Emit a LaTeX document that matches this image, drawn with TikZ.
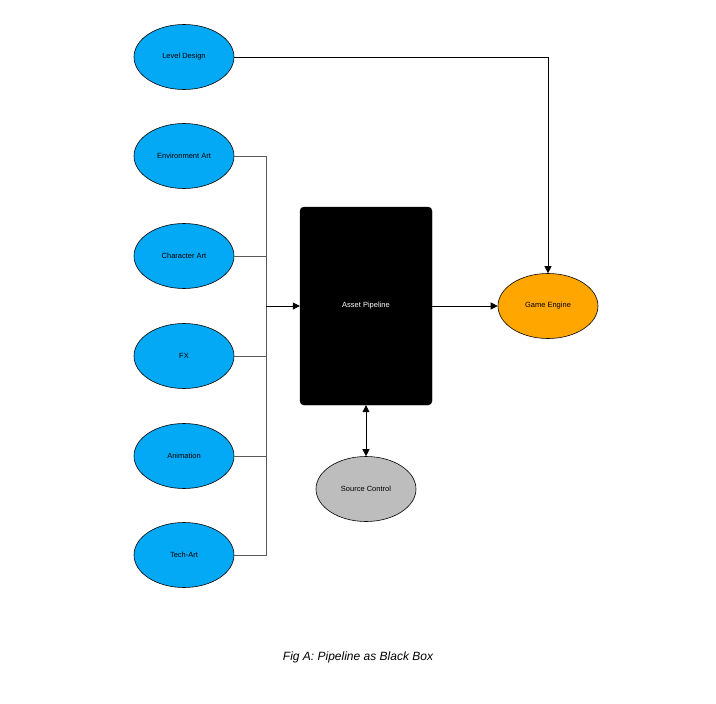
\documentclass[tikz,border=0pt]{standalone}
\usepackage{fontspec}
\setmainfont{Liberation Sans}
\usetikzlibrary{shapes.geometric,arrows.meta}
\begin{document}
\begin{tikzpicture}[x=1pt,y=-1pt,
  ell/.style={ellipse,draw=black,line width=0.6pt,minimum width=100pt,minimum height=65pt,inner sep=0pt,font=\fontsize{7.5}{9}\selectfont},
  blue/.style={ell,fill={rgb,255:red,3;green,169;blue,244}},
  con/.style={draw={rgb,255:red,90;green,90;blue,90},line width=0.6pt},
  arr/.style={con,-{Triangle[length=7pt,width=7pt]},draw=black}]
\useasboundingbox[fill=white] (0,0) rectangle (716,704);
\node[blue] (ld) at (184,57) {Level Design};
\node[blue] (ea) at (184,156) {Environment Art};
\node[blue] (ca) at (184,256) {Character Art};
\node[blue] (fx) at (184,356) {FX};
\node[blue] (an) at (184,456) {Animation};
\node[blue] (ta) at (184,555) {Tech-Art};
\node[draw=black,fill=black,rounded corners=4pt,minimum width=132pt,minimum height=198pt,text=white,font=\fontsize{7.5}{9}\selectfont] (ap) at (366,306) {Asset Pipeline};
\node[ell,fill={rgb,255:red,255;green,167;blue,0}] (ge) at (548,306) {Game Engine};
\node[ell,fill={rgb,255:red,189;green,189;blue,189}] (sc) at (366,489) {Source Control};
\coordinate (j) at (266,306);
\foreach \n in {ea,ca,fx,an,ta}{\draw[con] (\n.east) -- (\n.east -| j) -- (j);}
\draw[arr] (j) -- (ap.west);
\draw[arr] (ld.east) -| (ge.north);
\draw[arr] (ap.east) -- (ge.west);
\draw[con,draw=black,{Triangle[length=7pt,width=7pt]}-{Triangle[length=7pt,width=7pt]}] (ap.south) -- (sc.north);
\node[font=\itshape\fontsize{12}{14}\selectfont] (cap) at (358,657) {Fig A: Pipeline as Black Box};
\end{tikzpicture}
\end{document}
